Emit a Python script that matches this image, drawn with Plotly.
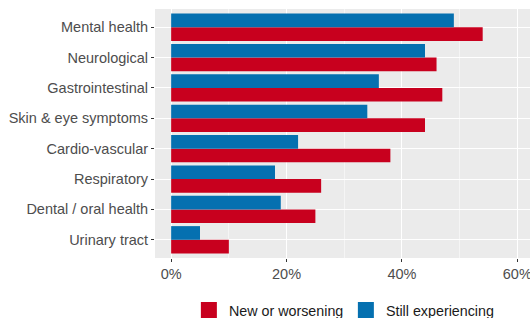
import plotly.graph_objects as go

categories = ["Mental health", "Neurological", "Gastrointestinal", "Skin & eye symptoms",
              "Cardio-vascular", "Respiratory", "Dental / oral health", "Urinary tract"]
new_or_worsening = [54, 46, 47, 44, 38, 26, 25, 10]
still_experiencing = [49, 44, 36, 34, 22, 18, 19, 5]
series_names = ["New or worsening", "Still experiencing"]
x_ticks = [0, 20, 40, 60]
x_tick_labels = ["0%", "20%", "40%", "60%"]

RED = "#C8001E"
BLUE = "#0570B0"

fig = go.Figure()
fig.add_trace(go.Bar(y=categories, x=new_or_worsening, orientation="h",
                     name=series_names[0], showlegend=False,
                     marker=dict(color=RED, line=dict(width=0))))
fig.add_trace(go.Bar(y=categories, x=still_experiencing, orientation="h",
                     name=series_names[1], showlegend=False,
                     marker=dict(color=BLUE, line=dict(width=0))))
# legend keys (larger squares, like ggplot)
for nm, col in zip(series_names, [RED, BLUE]):
    fig.add_trace(go.Scatter(x=[None], y=[None], mode="markers", name=nm,
                             marker=dict(symbol="square", size=20, color=col,
                                         line=dict(width=0))))

fig.update_layout(
    width=530, height=318,
    margin=dict(l=155, r=0, t=9, b=60, autoexpand=False),
    paper_bgcolor="white", plot_bgcolor="#EBEBEB",
    barmode="group", bargap=0.1, bargroupgap=0,
    font=dict(family="Liberation Sans, Arial, sans-serif", size=14.5, color="#4D4D4D"),
    showlegend=True,
    legend=dict(orientation="h", x=0.509, xanchor="center", y=-0.21, yanchor="middle",
                font=dict(size=14.3, color="#1A1A1A"), traceorder="normal",
                itemsizing="trace", entrywidth=112, entrywidthmode="pixels"),
    xaxis=dict(range=[-2.8, 62.2], tickvals=x_ticks, ticktext=x_tick_labels,
               showgrid=True, gridcolor="white", gridwidth=1.2, automargin=False,
               ticklabeloverflow="allow",
               minor=dict(dtick=10, tick0=0, showgrid=True, gridcolor="#F5F5F5", gridwidth=0.6),
               ticks="outside", ticklen=3, tickcolor="#333333", zeroline=False,
               showline=False, fixedrange=True),
    yaxis=dict(categoryorder="array", categoryarray=list(reversed(categories)),
               range=[-0.6, 7.6], showgrid=True, gridcolor="white", gridwidth=1.2,
               automargin=False,
               ticks="outside", ticklen=3, tickcolor="#333333", showline=False,
               zeroline=False, fixedrange=True),
)

fig.write_html("out.html", config={"displayModeBar": False},
               post_script="document.body.style.margin='0';document.body.style.overflow='hidden';")
